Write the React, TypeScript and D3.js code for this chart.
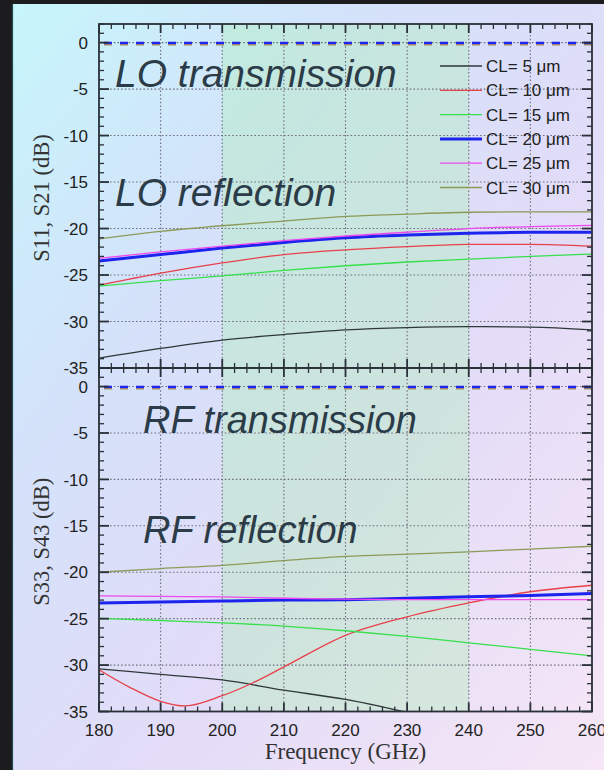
import React from "react";
import * as d3 from "d3";

const freqs = [180, 190, 200, 210, 220, 230, 240, 250, 260];
const legendLabels = ["CL= 5 μm", "CL= 10 μm", "CL= 15 μm", "CL= 20 μm", "CL= 25 μm", "CL= 30 μm"];
const seriesColors = ["#2e3838", "#e8404a", "#36e04c", "#1c24ee", "#ee48ee", "#8c9a58"];
const seriesWidths = [1.3, 1.3, 1.3, 3, 1.3, 1.3];

// LO reflection (S11) in dB
const loRefl5 = [-33.95, -32.9, -32.0, -31.4, -30.9, -30.65, -30.55, -30.6, -30.9];
const loRefl10 = [-26.1, -24.8, -23.7, -22.8, -22.3, -21.95, -21.7, -21.7, -21.9];
const loRefl15 = [-26.2, -25.6, -25.1, -24.5, -24.0, -23.6, -23.3, -23.0, -22.75];
const loRefl20 = [-23.5, -22.8, -22.1, -21.5, -21.0, -20.7, -20.5, -20.4, -20.4];
const loRefl25 = [-23.2, -22.5, -21.9, -21.3, -20.8, -20.4, -20.0, -19.8, -19.65];
const loRefl30 = [-21.1, -20.3, -19.7, -19.2, -18.7, -18.45, -18.25, -18.2, -18.2];

// LO transmission (S21) in dB
const loTrans = [-0.12, -0.14, -0.1, -0.04, -0.07, -0.2];

// RF reflection (S33) in dB
const rfRefl5Freqs = [180, 190, 200, 210, 220, 230];
const rfRefl5 = [-30.4, -31.0, -31.6, -32.7, -33.7, -35.1];
const rfRefl10Freqs = [180, 185, 190, 194, 200, 205, 210, 220, 230, 240, 250, 260];
const rfRefl10 = [-30.5, -32.4, -33.9, -34.4, -33.3, -31.9, -30.2, -26.8, -24.8, -23.3, -22.1, -21.4];
const rfRefl15 = [-24.98, -25.2, -25.45, -25.8, -26.3, -26.9, -27.6, -28.3, -29.0];
const rfRefl20 = [-23.3, -23.2, -23.1, -23.0, -22.95, -22.8, -22.65, -22.5, -22.3];
const rfRefl25 = [-22.55, -22.6, -22.65, -22.8, -22.9, -22.95, -22.95, -22.95, -22.95];
const rfRefl30 = [-20.0, -19.6, -19.25, -18.75, -18.3, -18.05, -17.8, -17.5, -17.2];

// RF transmission (S43) in dB
const rfTrans = [-0.12, -0.14, -0.1, -0.04, -0.07, -0.2];

const xTicksMajor = [180, 190, 200, 210, 220, 230, 240, 250, 260];
const yTicksMajor = [0, -5, -10, -15, -20, -25, -30, -35];
const shadeRange = [200, 240];

const W = 604;
const H = 770;
const left = 99;
const right = 592;
const top1 = 24;
const mid = 368;
const bot = 711.5;

const x = d3.scaleLinear().domain([180, 260]).range([left, right]);
const yTop = d3.scaleLinear().domain([-35, 2]).range([mid, top1]);
const yBot = d3.scaleLinear().domain([-35, 2]).range([bot, mid]);

const sans = "'Liberation Sans', Arial, Helvetica, sans-serif";
const serif = "'Liberation Serif', 'Times New Roman', serif";

type Series = { xs: number[]; ys: number[]; i: number };

function Panel({ y, refl, trans, clipId, yTitle }: { y: d3.ScaleLinear<number, number>; refl: Series[]; trans: number[]; clipId: string; yTitle: string }) {
  const [y0, y1] = y.range();
  const line = (s: Series) =>
    d3
      .line<number>()
      .x((_, k) => x(s.xs[k]))
      .y((v) => y(v))
      .curve(d3.curveMonotoneX)(s.ys) || "";
  const minorY = d3.range(-35, 3, 1);
  const minorX = d3.range(180, 261, 2);
  const transOrder = [5, 0, 1, 2, 4, 3];
  return (
    <g>
      <defs>
        <clipPath id={clipId}>
          <rect x={left} y={y1} width={right - left} height={y0 - y1} />
        </clipPath>
      </defs>
      <rect x={x(shadeRange[0])} y={y1} width={x(shadeRange[1]) - x(shadeRange[0])} height={y0 - y1} fill="#a8f0b0" opacity={0.35} />
      {/* grid */}
      {xTicksMajor.slice(1, -1).map((t) => (
        <line key={"gx" + t} x1={x(t)} x2={x(t)} y1={y1} y2={y0} stroke="#6a6a78" strokeWidth={1.1} strokeDasharray="1.5,2.2" />
      ))}
      {yTicksMajor.slice(0, -1).map((t) => (
        <line key={"gy" + t} x1={left} x2={right} y1={y(t)} y2={y(t)} stroke="#6a6a78" strokeWidth={1.1} strokeDasharray="1.5,2.2" />
      ))}
      {/* reflection curves */}
      <g clipPath={`url(#${clipId})`}>
        {refl.map((s) => (
          <path key={"r" + s.i} d={line(s)} fill="none" stroke={seriesColors[s.i]} strokeWidth={seriesWidths[s.i]} />
        ))}
        {transOrder.map((i) => (
          <line key={"t" + i} x1={x(180)} x2={x(260)} y1={y(trans[i])} y2={y(trans[i])} stroke={seriesColors[i]} strokeWidth={2.2} strokeDasharray="8,8" strokeDashoffset={-5} />
        ))}
      </g>
      {/* ticks left/right */}
      {minorY.map((t) => {
        const major = t % 5 === 0;
        const len = major ? 10 : 5;
        return (
          <g key={"ty" + t}>
            <line x1={left} x2={left + len} y1={y(t)} y2={y(t)} stroke="#2a3038" strokeWidth={major ? 1.8 : 1.3} />
            <line x1={right} x2={right - len} y1={y(t)} y2={y(t)} stroke="#2a3038" strokeWidth={major ? 1.8 : 1.3} />
          </g>
        );
      })}
      {/* ticks top/bottom */}
      {minorX.map((t) => {
        const major = t % 10 === 0;
        const len = major ? 9 : 5;
        return (
          <g key={"tx" + t}>
            <line x1={x(t)} x2={x(t)} y1={y1} y2={y1 + len} stroke="#2a3038" strokeWidth={major ? 1.8 : 1.3} />
            <line x1={x(t)} x2={x(t)} y1={y0} y2={y0 - len} stroke="#2a3038" strokeWidth={major ? 1.8 : 1.3} />
          </g>
        );
      })}
      <rect x={left} y={y1} width={right - left} height={y0 - y1} fill="none" stroke="#2a3038" strokeWidth={1.8} />
      {yTicksMajor.map((t) => (
        <text key={"ly" + t} x={88} y={y(t)} dy="0.36em" textAnchor="end" fontFamily={sans} fontSize={17} fill="#222">
          {t}
        </text>
      ))}
      <text transform={`translate(49,${(y0 + y1) / 2 + 2}) rotate(-90)`} textAnchor="middle" fontFamily={serif} fontSize={22.5} fill="#333">
        {yTitle}
      </text>
    </g>
  );
}

export default function App() {
  const loRefl: Series[] = [loRefl5, loRefl10, loRefl15, loRefl20, loRefl25, loRefl30].map((ys, i) => ({ xs: freqs, ys, i }));
  const rfRefl: Series[] = [
    { xs: rfRefl5Freqs, ys: rfRefl5, i: 0 },
    { xs: rfRefl10Freqs, ys: rfRefl10, i: 1 },
    { xs: freqs, ys: rfRefl15, i: 2 },
    { xs: freqs, ys: rfRefl20, i: 3 },
    { xs: freqs, ys: rfRefl25, i: 4 },
    { xs: freqs, ys: rfRefl30, i: 5 },
  ];
  return (
    <svg width={W} height={H} style={{ position: "absolute", left: 0, top: 0, display: "block" }}>
      <defs>
        <linearGradient id="bg" x1="0" y1="0" x2="1" y2="1">
          <stop offset="0" stopColor="#c6f6fb" />
          <stop offset="0.3" stopColor="#d4e2fa" />
          <stop offset="0.6" stopColor="#e2dcf8" />
          <stop offset="1" stopColor="#f6e6f6" />
        </linearGradient>
      </defs>
      <rect x={0} y={0} width={W} height={H} fill="#1c1c1e" />
      <rect x={12} y={4} width={W - 12} height={H - 4} fill="url(#bg)" />
      <line x1={12.5} x2={12.5} y1={4} y2={H} stroke="#1f4a52" strokeWidth={1.2} />
      <Panel y={yTop} refl={loRefl} trans={loTrans} clipId="clipTop" yTitle="S11, S21 (dB)" />
      <Panel y={yBot} refl={rfRefl} trans={rfTrans} clipId="clipBot" yTitle="S33, S43 (dB)" />
      {/* annotations */}
      <g fontFamily={sans} fontStyle="italic" fill="#2b3c48">
        <text x={115} y={87} fontSize={39}>LO transmission</text>
        <text x={115} y={206} fontSize={39}>LO reflection</text>
        <text x={143} y={433} fontSize={38}>RF transmission</text>
        <text x={143} y={543} fontSize={38}>RF reflection</text>
      </g>
      {/* legend */}
      {legendLabels.map((lab, i) => {
        const ly = 66 + i * 24.3;
        return (
          <g key={lab}>
            <line x1={440} x2={482} y1={ly} y2={ly} stroke={seriesColors[i]} strokeWidth={seriesWidths[i]} />
            <text x={486} y={ly} dy="0.36em" fontFamily={sans} fontSize={17} fill="#222">
              {lab}
            </text>
          </g>
        );
      })}
      {/* x tick labels */}
      {xTicksMajor.map((t) => (
        <text key={"lx" + t} x={x(t)} y={736} textAnchor="middle" fontFamily={sans} fontSize={17} fill="#222">
          {t}
        </text>
      ))}
      <text x={(left + right) / 2} y={759} textAnchor="middle" fontFamily={serif} fontSize={23} fill="#333">
        Frequency (GHz)
      </text>
    </svg>
  );
}
